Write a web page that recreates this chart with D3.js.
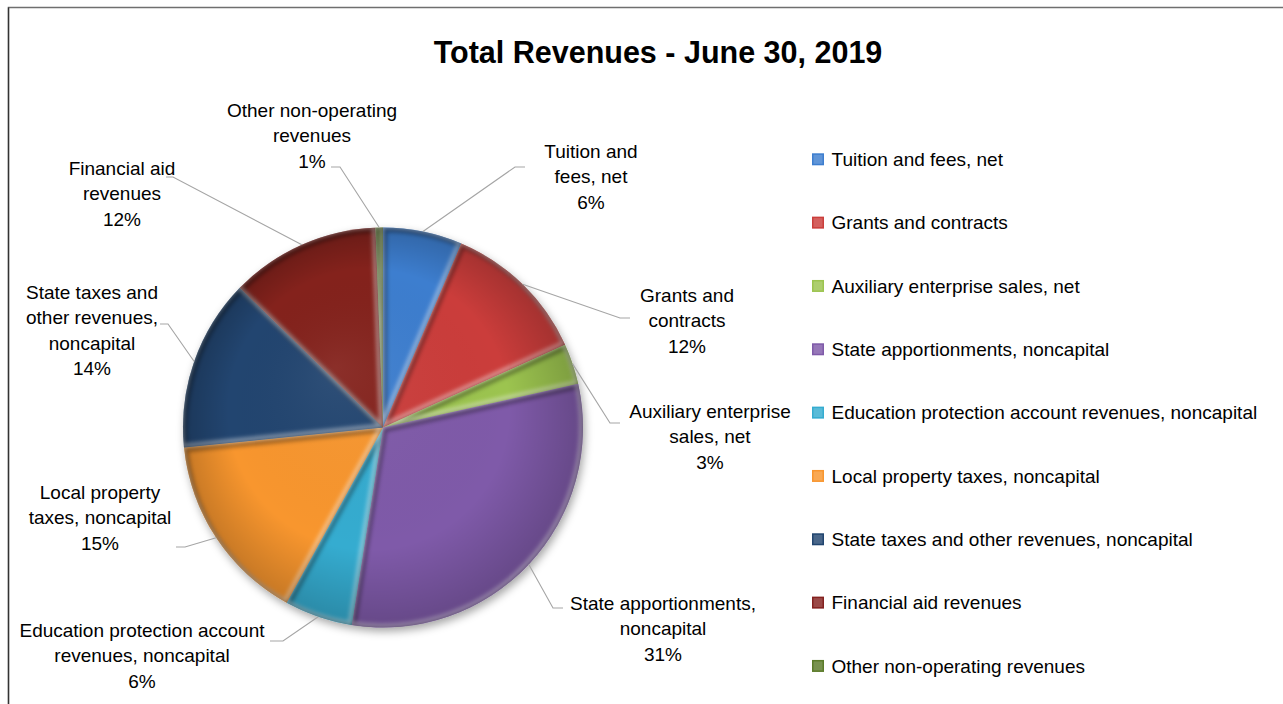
<!DOCTYPE html>
<html>
<head>
<meta charset="utf-8">
<script src="https://cdn.jsdelivr.net/npm/d3@7"></script>
<style>
  body { margin: 0; background: #fff; }
  text { font-family: "Liberation Sans", Arial, sans-serif; fill: #000; }
</style>
</head>
<body>
<div id="VisContainer"></div>
<script>
// data (share of total revenues, %)
categories = ["Tuition and fees, net", "Grants and contracts", "Auxiliary enterprise sales, net",
              "State apportionments, noncapital", "Education protection account revenues, noncapital",
              "Local property taxes, noncapital", "State taxes and other revenues, noncapital",
              "Financial aid revenues", "Other non-operating revenues"];
values = [6.4, 11.8, 3.3, 31.0, 5.5, 15.4, 13.9, 12.1, 0.6];
pctLabels = ["6%", "12%", "3%", "31%", "6%", "15%", "14%", "12%", "1%"];
labelLines = [["Tuition and", "fees, net"], ["Grants and", "contracts"], ["Auxiliary enterprise", "sales, net"],
              ["State apportionments,", "noncapital"], ["Education protection account", "revenues, noncapital"],
              ["Local property", "taxes, noncapital"], ["State taxes and", "other revenues,", "noncapital"],
              ["Financial aid", "revenues"], ["Other non-operating", "revenues"]];
colors = ["#3d7ecf", "#cb3e3b", "#9cc44f", "#7f5aa9", "#35acd0", "#f8962f", "#21456f", "#84211f", "#5b7b29"];

// label layout: text centre x, first line centre y, leader end (x,y), elbow x
labelPos = [
  [591, 151, 525, 167, 515],
  [687, 295, 630, 318, 620],
  [710, 411, 620, 423, 610],
  [663, 603, 563, 608, 553],
  [142, 630, 270, 641, 283],
  [100, 492, 176, 547, 185],
  [92, 292, 160, 324, 168],
  [122, 168, 166, 177, 173],
  [312, 110, 331, 167, 340]
];

W = 1283, H = 704;
cx = 383, cy = 427.5, R = 200;
lineH = 25.5;

svg = d3.select("#VisContainer").append("svg")
        .attr("width", W).attr("height", H);

defs = svg.append("defs");

shadow = defs.append("filter").attr("id", "pieShadow")
             .attr("x", "-20%").attr("y", "-20%").attr("width", "140%").attr("height", "140%");
shadow.append("feDropShadow").attr("dx", 2).attr("dy", 4).attr("stdDeviation", 4)
      .attr("flood-color", "#000").attr("flood-opacity", 0.35);

soft = defs.append("filter").attr("id", "soft");
soft.append("feGaussianBlur").attr("stdDeviation", 2.2);

shade = defs.append("radialGradient").attr("id", "shade")
            .attr("cx", "50%").attr("cy", "50%").attr("r", "50%")
            .attr("fx", "38%").attr("fy", "35%");
shade.append("stop").attr("offset", "0%").attr("stop-color", "#fff").attr("stop-opacity", 0.06);
shade.append("stop").attr("offset", "70%").attr("stop-color", "#000").attr("stop-opacity", 0.0);
shade.append("stop").attr("offset", "100%").attr("stop-color", "#000").attr("stop-opacity", 0.2);

// frame
svg.append("rect").attr("x", 8.5).attr("y", 7.5).attr("width", W).attr("height", H)
   .attr("fill", "none").attr("stroke", "#6f6f6f").attr("stroke-width", 1.5);
svg.append("line").attr("x1", 8.5).attr("x2", 8.5).attr("y1", 7.5).attr("y2", H)
   .attr("stroke", "#333").attr("stroke-width", 1.3);

// title
svg.append("text").attr("x", 658).attr("y", 63).attr("text-anchor", "middle")
   .style("font-size", "30.5px").style("font-weight", "bold")
   .text("Total Revenues - June 30, 2019");

pie = d3.pie().sort(null).value(function(d){ return d; });
arcs = pie(values);
arc = d3.arc().innerRadius(0).outerRadius(R);

g = svg.append("g").attr("transform", "translate(" + cx + "," + cy + ")");
gp = g.append("g").attr("filter", "url(#pieShadow)");

arcs.forEach(function(a, i){
  defs.append("clipPath").attr("id", "clip" + i)
      .append("path").attr("d", arc(a));
});

gp.selectAll("path.slice")
  .data(arcs)
  .enter().append("path")
  .attr("class", "slice")
  .attr("d", arc)
  .attr("fill", function(d, i){ return colors[i]; });

// bevel: light rim inside each slice, dark rim on the lower edges
bev = g.selectAll("g.bevel").data(arcs).enter().append("g")
       .attr("class", "bevel")
       .attr("clip-path", function(d, i){ return "url(#clip" + i + ")"; });
bev.append("path").attr("d", arc)
   .attr("fill", "none").attr("stroke", "#000").attr("stroke-opacity", 0.38)
   .attr("stroke-width", 5).attr("filter", "url(#soft)")
   .attr("transform", "translate(1.5,2)");
bev.append("path").attr("d", arc)
   .attr("fill", "none").attr("stroke", "#fff").attr("stroke-opacity", 0.5)
   .attr("stroke-width", 4).attr("filter", "url(#soft)")
   .attr("transform", "translate(-1.5,-1.5)");

g.append("circle").attr("r", R).attr("fill", "url(#shade)");

// leader lines
arcs.forEach(function(a, i){
  var m = (a.startAngle + a.endAngle) / 2;
  var ax = cx + R * Math.sin(m), ay = cy - R * Math.cos(m);
  var p = labelPos[i];
  svg.append("polyline")
     .attr("points", [[ax, ay], [p[4], p[3]], [p[2], p[3]]].map(function(q){ return q.join(","); }).join(" "))
     .attr("fill", "none").attr("stroke", "#a5a5a5").attr("stroke-width", 1.1);
});

// data labels
arcs.forEach(function(a, i){
  var p = labelPos[i];
  var t = svg.append("text").attr("text-anchor", "middle").style("font-size", "19px");
  labelLines[i].concat([pctLabels[i]]).forEach(function(s, k){
    t.append("tspan").attr("x", p[0]).attr("y", p[1] + k * lineH + 6.8).text(s);
  });
});

// legend
leg = svg.selectAll("g.leg").data(categories).enter().append("g")
         .attr("class", "leg")
         .attr("transform", function(d, i){ return "translate(812," + (159.3 + i * 63.33) + ")"; });
leg.append("rect").attr("x", 0).attr("y", -6).attr("width", 12).attr("height", 12)
   .attr("fill", function(d, i){ return colors[i]; });
leg.append("rect").attr("x", 1.5).attr("y", -4.5).attr("width", 9).attr("height", 9)
   .attr("fill", "#fff").attr("fill-opacity", 0.18);
leg.append("text").attr("x", 19.5).attr("y", 6.8).style("font-size", "19px")
   .text(function(d){ return d; });
</script>
</body>
</html>
